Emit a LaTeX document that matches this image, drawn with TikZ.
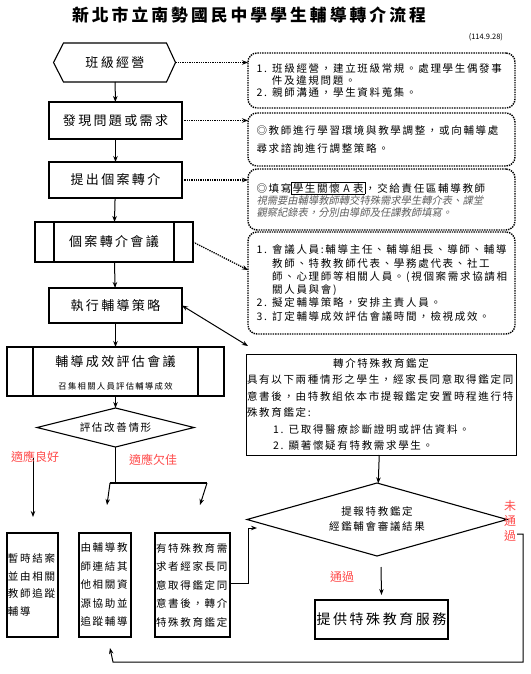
\documentclass[tikz,border=0pt]{standalone}
\usepackage{fontspec}
\setmainfont{Noto Sans CJK TC}
\newfontfamily\labelfont[LetterSpace=18]{Noto Sans CJK TC}
\newfontfamily\notefont[LetterSpace=16]{Noto Sans CJK TC}
\newfontfamily\slantfont[FakeSlant=0.2]{Noto Sans CJK TC}
\usetikzlibrary{arrows.meta,shapes.geometric}
\definecolor{passRed}{RGB}{255,75,75}
\definecolor{hintGray}{RGB}{95,95,95}

\begin{document}
\begin{tikzpicture}[x=1pt,y=-1pt,
    every node/.style={inner sep=0pt,outer sep=0pt},
    stepBox/.style={draw,line width=1.1pt,minimum width=133pt,align=center,font=\labelfont\fontsize{13}{15}\selectfont},
    noteBox/.style={draw,densely dotted,line width=1.4pt,rounded corners=9pt,minimum width=267pt,text width=250pt,align=left},
    cellBox/.style={draw,line width=1.1pt,minimum height=104pt,align=left,font=\notefont\fontsize{10.5}{18.5}\selectfont},
    redText/.style={text=passRed,font=\fontsize{12}{12}\selectfont},
    arrowLine/.style={-{Stealth[length=6pt,width=4.5pt]},line width=1pt},
    dotArrow/.style={-{Stealth[length=6pt,width=4.5pt]},densely dotted,line width=1.3pt}]
    \useasboundingbox (0,0) rectangle (530,674);
    \setlength{\fboxsep}{1pt}

    % Define the macro.
    % 1st argument: Name of the box node.
    % 2nd argument: Inset of the two inner side lines.
    \newcommand{\procSides}[2]{
        \draw[line width=1.1pt] ([xshift=#2]#1.north west) -- ([xshift=#2]#1.south west);
        \draw[line width=1.1pt] ([xshift=-#2]#1.north east) -- ([xshift=-#2]#1.south east);
    }

    % TITLE
    \node[font=\labelfont\bfseries\fontsize{16.8}{18}\selectfont] (title) at (249,15) {新北市立南勢國民中學學生輔導轉介流程};
    \node[anchor=east,font=\fontsize{7.5}{8}\selectfont] (date) at (503,37) {(114.9.28)};

    % LEFT COLUMN
    \node[minimum width=103pt,minimum height=39pt,font=\labelfont\fontsize{13}{15}\selectfont] (classMgmt) at (115,62.5) {班級經營};
    \draw[line width=1.1pt] (classMgmt.north west) -- (classMgmt.north east) -- ([xshift=9pt]classMgmt.east)
        -- (classMgmt.south east) -- (classMgmt.south west) -- ([xshift=-10pt]classMgmt.west) -- cycle;
    \coordinate (classTip) at ([xshift=9pt]classMgmt.east);

    \node[stepBox,minimum height=37pt] (findIssue) at (115.5,120.5) {發現問題或需求};
    \node[stepBox,minimum height=36pt] (caseRefer) at (115.5,180) {提出個案轉介};
    \node[stepBox,line width=1.6pt,minimum width=158pt,minimum height=40pt] (referMeet) at (114,242) {個案轉介會議};
    \procSides{referMeet}{19pt}
    \node[stepBox,minimum height=35pt] (execPlan) at (115.5,305.5) {執行輔導策略};
    \node[stepBox,minimum width=217pt,minimum height=49pt] (evalMeet) at (115.5,371.5) {};
    \procSides{evalMeet}{26pt}
    \node[font=\labelfont\fontsize{13}{15}\selectfont] (evalTitle) at (115.5,362) {輔導成效評估會議};
    \node[font=\notefont\fontsize{8.3}{9}\selectfont] (evalSub) at (115.5,386) {召集相關人員評估輔導成效};

    \node[draw,shape=diamond,aspect=4,line width=1.1pt,minimum width=157pt,minimum height=39pt,
        font=\notefont\fontsize{10.5}{12}\selectfont] (evalCheck) at (115.5,427.5) {評估改善情形};

    \draw[arrowLine] (classMgmt) -- (findIssue);
    \draw[arrowLine] (findIssue) -- (caseRefer);
    \draw[arrowLine] (caseRefer) -- (referMeet);
    \draw[arrowLine] (referMeet) -- (execPlan);
    \draw[arrowLine] (execPlan) -- (evalMeet);
    \draw[arrowLine] (evalMeet) -- (evalCheck);

    % RIGHT NOTES
    \node[noteBox,minimum height=55pt,font=\notefont\fontsize{10.5}{12}\selectfont] (note1) at (381.5,80.5)
        {1. 班級經營，建立班級常規。處理學生偶發事\\\phantom{1.}\hspace{5pt}件及違規問題。\\2. 親師溝通，學生資料蒐集。};
    \node[noteBox,minimum height=53pt,font=\notefont\fontsize{10.5}{18}\selectfont] (note2) at (381.5,139.5)
        {◎教師進行學習環境與教學調整，或向輔導處\\尋求諮詢進行調整策略。};
    \node[noteBox,minimum height=61pt,font=\notefont\fontsize{10.5}{12}\selectfont] (note3) at (381.5,199.5)
        {◎填寫\fbox{學生關懷 A 表}，交給責任區輔導教師\\
        {\slantfont\color{hintGray}\fontsize{10.3}{12}\selectfont 視需要由輔導教師轉交特殊需求學生轉介表、課堂\\觀察紀錄表，分別由導師及任課教師填寫。}};
    \node[noteBox,minimum height=102pt,font=\notefont\fontsize{10.5}{13.3}\selectfont] (note4) at (381.5,283)
        {1. 會議人員:輔導主任、輔導組長、導師、輔導\\\phantom{1. }教師、特教教師代表、學務處代表、社工\\
        \phantom{1. }師、心理師等相關人員。(視個案需求協請相\\\phantom{1. }關人員與會)\\
        2. 擬定輔導策略，安排主責人員。\\3. 訂定輔導成效評估會議時間，檢視成效。};

    \draw[dotArrow] (classTip) -- (classTip -| note1.west);
    \draw[dotArrow] (findIssue.east) -- (findIssue.east -| note2.west);
    \draw[dotArrow] (caseRefer.east) -- (caseRefer.east -| note3.west);
    \draw[dotArrow] (referMeet.east) -- ([yshift=13pt]note4.west);

    % SPECIAL EDUCATION
    \node[draw,line width=0.8pt,minimum width=270pt,minimum height=101pt,text width=268pt,align=left,
        font=\notefont\fontsize{10.5}{16.4}\selectfont] (specRefer) at (381,404.5)
        {\makebox[\linewidth][c]{轉介特殊教育鑑定}\\具有以下兩種情形之學生，經家長同意取得鑑定同\\
        意書後，由特教組依本市提報鑑定安置時程進行特\\殊教育鑑定:\\
        \hspace*{26pt}1. 已取得醫療診斷證明或評估資料。\\\hspace*{26pt}2. 顯著懷疑有特教需求學生。};
    \draw[{Stealth[length=6pt,width=4.5pt]}-{Stealth[length=6pt,width=4.5pt]},line width=1pt]
        (execPlan.east) -- ([shift={(2pt,8pt)}]specRefer.north west);

    \node[draw,shape=diamond,aspect=3.5,line width=1.1pt,minimum width=260pt,minimum height=73pt,align=center,
        font=\notefont\fontsize{10.5}{15}\selectfont] (specReview) at (377,519.5) {提報特教鑑定\\經鑑輔會審議結果};
    \node[stepBox,font=\labelfont\fontsize{14}{16}\selectfont,minimum height=39pt] (specService) at (381.5,619.5) {提供特殊教育服務};
    \draw[arrowLine] (specRefer) -- (specReview);

    % OUTCOMES
    \node[cellBox,minimum width=51pt,text width=49pt,font=\notefont\fontsize{10.5}{17.7}\selectfont] (closeCase) at (32.5,585)
        {暫時結案\\並由相關\\教師追蹤\\輔導};
    \node[cellBox,minimum width=52pt,text width=49pt] (linkSupport) at (105,585)
        {由輔導教\\師連結其\\他相關資\\源協助並\\追蹤輔導};
    \node[cellBox,minimum width=75pt,text width=73pt] (specCase) at (192.5,585)
        {有特殊教育需\\求者經家長同\\意取得鑑定同\\意書後，轉介\\特殊教育鑑定};

    \coordinate (goodTop) at (33,458);
    \coordinate (goodTip) at (33,517);
    \coordinate (splitL) at (110,483);
    \coordinate (splitR) at (207,483);
    \coordinate (poorTipL) at (107,505);
    \coordinate (poorTipR) at (200,505);
    \draw[arrowLine] (goodTop) -- (goodTip);
    \draw[line width=1.2pt] (evalCheck.south) -- (evalCheck.south |- splitL);
    \draw[line width=1.2pt] (splitL) -- (splitR);
    \draw[arrowLine] (splitL) -- (poorTipL);
    \draw[arrowLine] (splitR) -- (poorTipR);

    \coordinate (hookIn) at (257,528);
    \draw[arrowLine] ([yshift=2pt]specCase.east) -- ++(18,0) |- (hookIn);

    \coordinate (passTop) at (381,567);
    \draw[arrowLine] (passTop) -- ([yshift=5pt]specService.north);

    \coordinate (failOut) at (517,534);
    \coordinate (loopCorner) at (113,662);
    \coordinate (loopTip) at (110,648);
    \draw[arrowLine] (failOut) -- ++(6,0) |- (loopCorner) -- (loopTip);

    % LABELS
    \node[redText] (goodLabel) at (35,457) {適應良好};
    \node[redText] (poorLabel) at (153,460) {適應欠佳};
    \node[redText] (passLabel) at (342,577) {通過};
    \node[redText,align=center,font=\fontsize{12}{15}\selectfont] (failLabel) at (510,521) {未\\通\\過};
\end{tikzpicture}
\end{document}
